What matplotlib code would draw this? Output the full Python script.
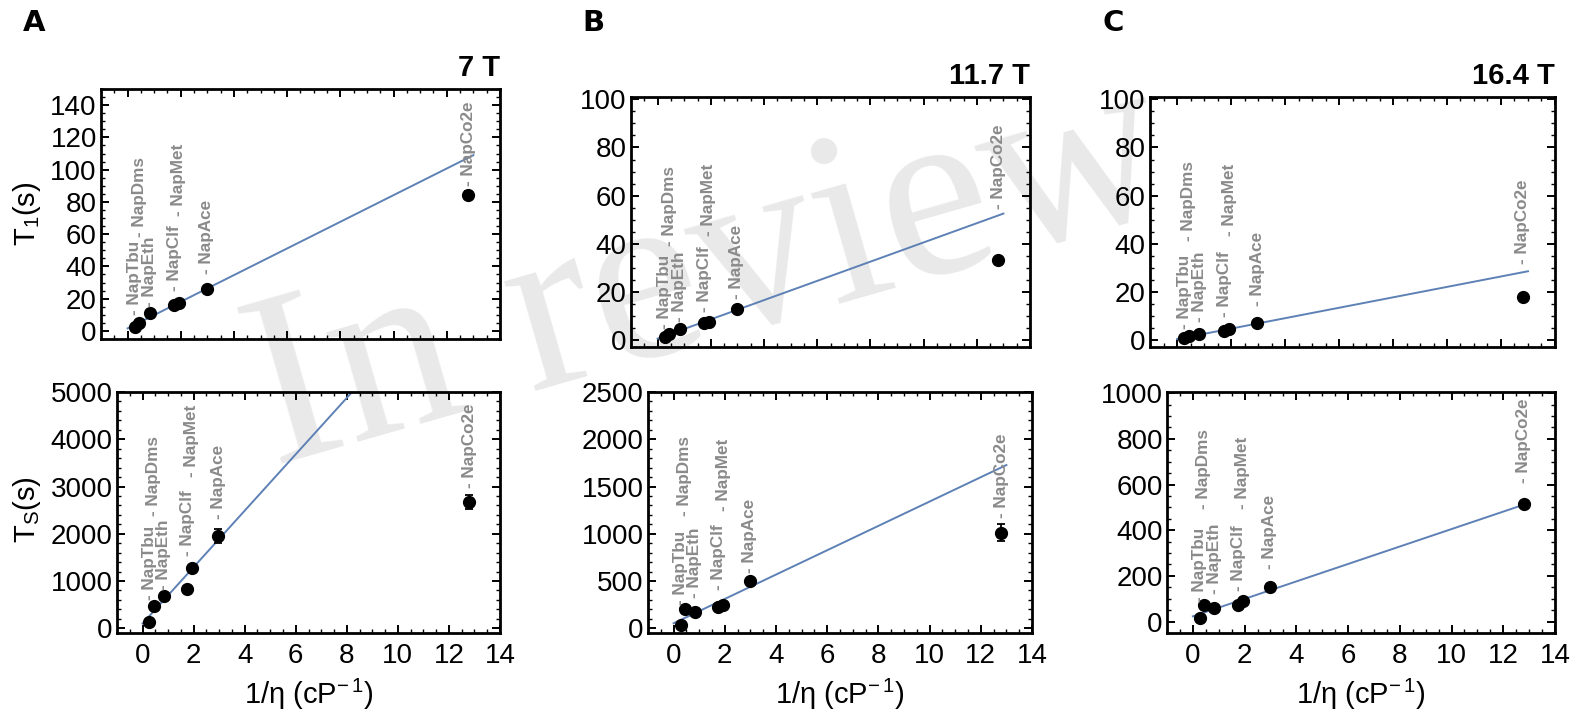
import numpy as np
import matplotlib.pyplot as plt
from matplotlib.ticker import MultipleLocator, AutoMinorLocator

plt.rcParams['font.family'] = ['Liberation Sans', 'DejaVu Sans']
plt.rcParams['mathtext.fontset'] = 'custom'
plt.rcParams['mathtext.rm'] = 'Liberation Sans'
plt.rcParams['mathtext.it'] = 'Liberation Sans:italic'
plt.rcParams['mathtext.bf'] = 'Liberation Sans:bold'

# data
compounds = ["NapTbu", "NapDms", "NapEth", "NapClf", "NapMet", "NapAce", "NapCo2e"]
inv_visc = [0.27, 0.43, 0.83, 1.75, 1.93, 2.97, 12.8]

t1_7T = [2.7, 4.7, 10.9, 16.0, 17.5, 25.7, 84.0]
t1_7T_err = [0, 0, 0, 0, 0, 0, 2.5]
ts_7T = [142, 475, 688, 830, 1277, 1950, 2675]
ts_7T_err = [0, 0, 0, 0, 0, 150, 150]

t1_117T = [1.25, 2.4, 4.4, 6.8, 7.6, 12.8, 33.3]
t1_117T_err = [0, 0, 0, 0, 0, 0, 0]
ts_117T = [35, 202, 177, 220, 248, 496, 1011]
ts_117T_err = [0, 0, 0, 0, 0, 0, 90]

t1_164T = [0.7, 1.4, 2.6, 3.5, 4.4, 6.9, 17.9]
t1_164T_err = [0, 0, 0, 0, 0, 0, 0]
ts_164T = [15, 73, 59, 73, 92, 151, 514]
ts_164T_err = [0, 0, 0, 0, 0, 0, 0]

# linear fits (slope, intercept) and the x span they are drawn over
fit_t1_7T = (8.26, 1.6)
fit_ts_7T = (597, 100)
fit_t1_117T = (4.0, 0.5)
fit_ts_117T = (128.8, 53)
fit_t1_164T = (2.17, 0.3)
fit_ts_164T = (38.2, 23)
fit_range = [0, 13]

fields = ["7 T", "11.7 T", "16.4 T"]

# where the rotated compound labels start (layout)
lab_t1_7T = [10, 58, 15, 25, 71, 35, 90]
lab_ts_7T = [603, 2376, 816, 1525, 3191, 2305, 2979]
lab_t1_117T = [4.4, 39, 7.2, 11.4, 43, 17, 54.4]
lab_ts_117T = [248, 1188, 319, 408, 1241, 585, 1170]
lab_t1_164T = [4.4, 41, 7.2, 9.3, 43, 14, 31.5]
lab_ts_164T = [85, 495, 121, 136, 495, 231, 605]

W, H = 1584, 720
fig = plt.figure(figsize=(W / 100, H / 100), dpi=100)


def rect(x0, y0, x1, y1):
    return [x0 / W, 1 - y1 / H, (x1 - x0) / W, (y1 - y0) / H]


def panel(r, y, yerr, fit, lab_y, ylim, ymaj, nmin, bottom):
    ax = fig.add_axes(r)
    ax.set_facecolor('none')
    xf = np.array(fit_range)
    ax.plot(xf, fit[0] * xf + fit[1], color='#5e81b5', lw=1.4, zorder=2)
    ax.plot(inv_visc, y, 'o', color='black', ms=8.5, zorder=3)
    e = np.array(yerr)
    m = e > 0
    if m.any():
        ax.errorbar(np.array(inv_visc)[m], np.array(y)[m], yerr=e[m], fmt='none',
                    ecolor='black', elinewidth=1.3, capsize=3, capthick=1.3, zorder=3)
    for name, xv, yl in zip(compounds, inv_visc, lab_y):
        ax.text(xv, yl, '- ' + name, rotation=90, ha='center', va='bottom',
                color='#8a8a8a', fontsize=12.3, fontweight='bold', zorder=4)
    ax.set_xlim(-1, 14)
    ax.set_ylim(*ylim)
    ax.xaxis.set_major_locator(MultipleLocator(2))
    ax.xaxis.set_minor_locator(AutoMinorLocator(4))
    ax.yaxis.set_major_locator(MultipleLocator(ymaj))
    ax.yaxis.set_minor_locator(AutoMinorLocator(nmin))
    ax.tick_params(which='both', direction='in', top=True, right=True,
                   labelsize=20, pad=3)
    ax.tick_params(axis='x', pad=7)
    ax.tick_params(which='major', length=6, width=1.4)
    ax.tick_params(which='minor', length=3, width=1.0)
    for s in ax.spines.values():
        s.set_linewidth(2)
    if bottom:
        ax.set_xlabel('1/η (cP$^{-\\,1}$)', fontsize=21, labelpad=6)
    else:
        ax.tick_params(labelbottom=False)
    return ax


axA1 = panel(rect(101, 89, 500, 339), t1_7T, t1_7T_err, fit_t1_7T, lab_t1_7T, (-5, 150), 20, 4, False)
axA2 = panel(rect(117, 392, 500, 633), ts_7T, ts_7T_err, fit_ts_7T, lab_ts_7T, (-100, 5000), 1000, 5, True)
axB1 = panel(rect(631, 97, 1030, 347), t1_117T, t1_117T_err, fit_t1_117T, lab_t1_117T, (-3, 101), 20, 4, False)
axB2 = panel(rect(648, 392, 1032, 633), ts_117T, ts_117T_err, fit_ts_117T, lab_ts_117T, (-50, 2500), 500, 5, True)
axC1 = panel(rect(1150, 97, 1555, 347), t1_164T, t1_164T_err, fit_t1_164T, lab_t1_164T, (-3, 101), 20, 4, False)
axC2 = panel(rect(1167, 392, 1555, 633), ts_164T, ts_164T_err, fit_ts_164T, lab_ts_164T, (-50, 1005), 200, 4, True)

for ax, t in zip([axA1, axB1, axC1], fields):
    ax.set_title(t, loc='right', fontsize=21, fontweight='bold', pad=9)

fig.text(27 / W, 1 - 214 / H, 'T$_1$(s)', rotation=90, ha='center', va='center', fontsize=21)
fig.text(27 / W, 1 - 510 / H, 'T$_\\mathrm{S}$(s)', rotation=90, ha='center', va='center', fontsize=21)

for lx, letter in zip([23, 582, 1102], ['A', 'B', 'C']):
    fig.text(lx / W, 1 - 23 / H, letter, fontsize=21, fontweight='heavy',
             family='DejaVu Sans', ha='left', va='center')

# watermark
fig.text(0.448, 0.612, 'In review', family='Liberation Serif', fontsize=178,
         rotation=16, color='#e9e9e9', ha='center', va='center', zorder=-1)

fig.savefig('out.png', dpi=100)
